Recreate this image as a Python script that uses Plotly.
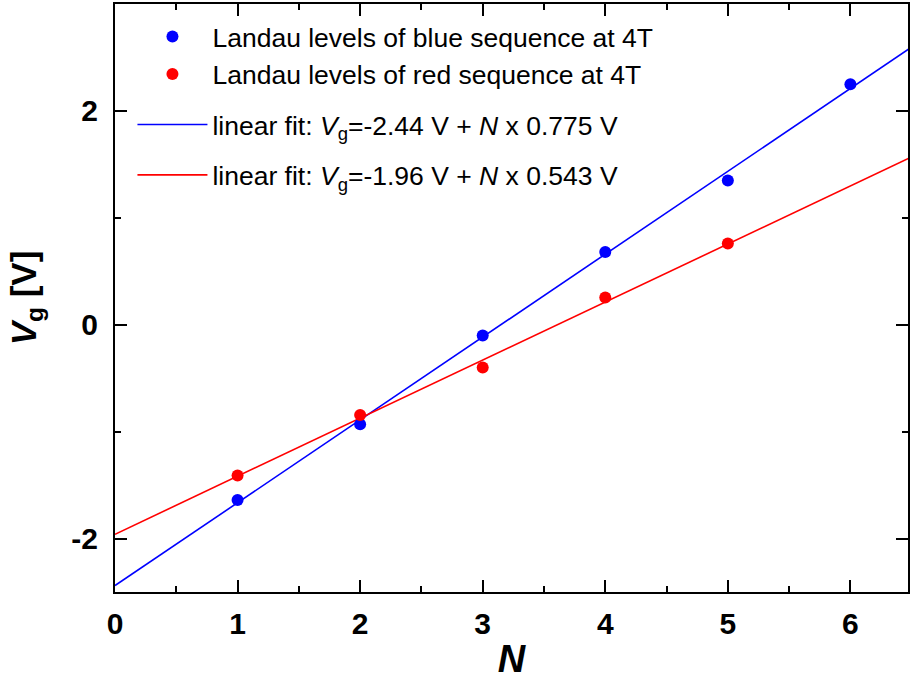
import plotly.graph_objects as go

N_blue = [1, 2, 3, 4, 5, 6]
Vg_blue = [-1.64, -0.93, -0.10, 0.68, 1.35, 2.25]
N_red = [1, 2, 3, 4, 5]
Vg_red = [-1.41, -0.845, -0.40, 0.255, 0.76]

fit_blue = (-2.44, 0.775)
fit_red = (-1.96, 0.543)
N_fit = [0, 6.6]

x_tick_vals = [0, 1, 2, 3, 4, 5, 6]
x_tick_labels = ["0", "1", "2", "3", "4", "5", "6"]
y_tick_vals = [-2, 0, 2]
y_tick_labels = ["-2", "0", "2"]

FONT = "Liberation Sans, Arial, sans-serif"

fig = go.Figure()
fig.add_trace(go.Scatter(x=N_fit, y=[fit_blue[0] + fit_blue[1] * n for n in N_fit], mode="lines",
                         line=dict(color="#0000ff", width=1.6), legendrank=3, legendgroup="c",
                         name="linear fit: <i>V</i><sub>g</sub>=-2.44 V + <i>N</i> x 0.775 V"))
fig.add_trace(go.Scatter(x=N_fit, y=[fit_red[0] + fit_red[1] * n for n in N_fit], mode="lines",
                         line=dict(color="#ff0000", width=1.6), legendrank=4, legendgroup="d",
                         name="linear fit: <i>V</i><sub>g</sub>=-1.96 V + <i>N</i> x 0.543 V"))
fig.add_trace(go.Scatter(x=N_blue, y=Vg_blue, mode="markers",
                         marker=dict(color="#0000ff", size=12), legendrank=1, legendgroup="a",
                         name="Landau levels of blue sequence at 4T"))
fig.add_trace(go.Scatter(x=N_red, y=Vg_red, mode="markers",
                         marker=dict(color="#ff0000", size=12), legendrank=2, legendgroup="a",
                         name="Landau levels of red sequence at 4T"))

axis_common = dict(showline=True, linecolor="black", linewidth=2, mirror="ticks",
                   ticks="inside", ticklen=12, tickwidth=2, tickcolor="black",
                   showgrid=False, zeroline=False,
                   tickfont=dict(family=FONT, size=30, color="black", weight="bold"))

fig.update_xaxes(range=[0, 6.47], tickmode="array", tickvals=x_tick_vals, ticktext=x_tick_labels,
                 ticklabelstandoff=4,
                 minor=dict(ticks="inside", ticklen=6, tickwidth=2, tickcolor="black", dtick=0.5, tick0=0),
                 title=dict(text="<b><i>N</i></b>", font=dict(family=FONT, size=38, color="black"), standoff=6),
                 **axis_common)
fig.update_yaxes(range=[-2.5, 3.0], tickmode="array", tickvals=y_tick_vals, ticktext=y_tick_labels,
                 ticklabelstandoff=9,
                 minor=dict(ticks="inside", ticklen=6, tickwidth=2, tickcolor="black", dtick=1, tick0=-3),
                 title=dict(text="<b><i>V</i><sub>g</sub> [V]</b>", font=dict(family=FONT, size=35, color="black"), standoff=24),
                 **axis_common)

fig.update_layout(
    width=910, height=682,
    margin=dict(l=115, r=0, t=4, b=90),
    plot_bgcolor="white", paper_bgcolor="white",
    font=dict(family=FONT, color="black"),
    showlegend=True,
    legend=dict(x=0.022, y=0.985, xanchor="left", yanchor="top",
                bgcolor="rgba(0,0,0,0)", borderwidth=0,
                font=dict(family=FONT, size=26.5, color="black"),
                itemwidth=70, tracegroupgap=13),
)

fig.write_html("out.html")
